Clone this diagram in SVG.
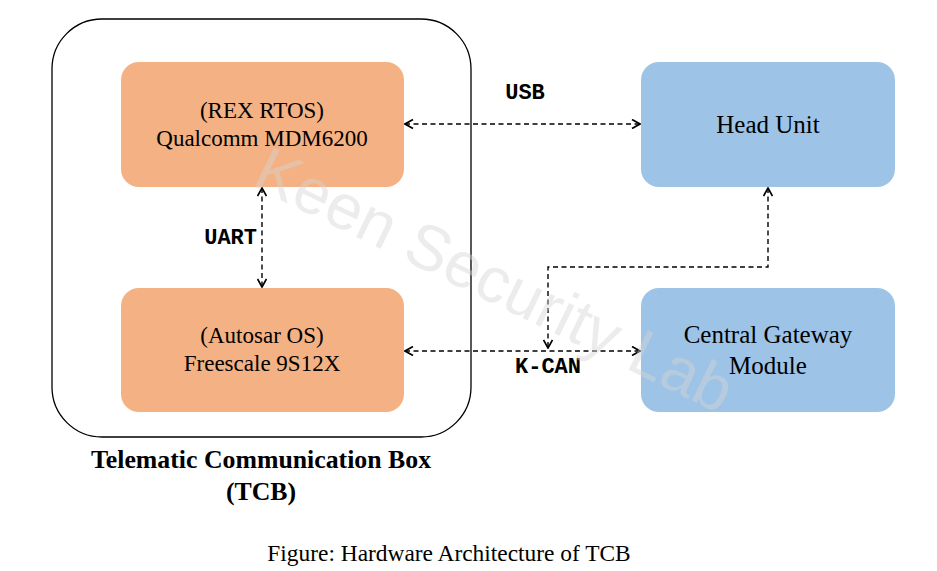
<svg xmlns="http://www.w3.org/2000/svg" width="937" height="571" viewBox="0 0 937 571">
  <style>
    .serif { font-family: "Liberation Serif", "Times New Roman", serif; fill: #000; }
    .mono { font-family: "Liberation Mono", "Courier New", monospace; font-weight: bold; font-size: 22px; fill: #000; }
    .orange { fill: #F4B183; }
    .blue { fill: #9DC3E6; }
    .conn { fill: none; stroke: #000; stroke-width: 1.4; stroke-dasharray: 5 3.5; }
  </style>
  <defs>
    <marker id="arr" viewBox="0 0 10 10" refX="9" refY="5" markerWidth="10" markerHeight="10" markerUnits="userSpaceOnUse" orient="auto-start-reverse">
      <path d="M1,0.5 L9,5 L1,9.5" fill="none" stroke="#000" stroke-width="1.7"/>
    </marker>
  </defs>
  <rect width="937" height="571" fill="#fff"/>

  <g id="tcb">
    <rect x="52" y="19" width="419" height="418" rx="50" ry="50" fill="none" stroke="#000" stroke-width="1.3"/>
    <text class="serif" x="261" y="468" font-size="25.8" font-weight="bold" text-anchor="middle">Telematic Communication Box</text>
    <text class="serif" x="261" y="500" font-size="25.8" font-weight="bold" text-anchor="middle">(TCB)</text>
  </g>

  <g id="qualcomm">
    <rect class="orange" x="121" y="62" width="283" height="125" rx="18" ry="18"/>
    <text class="serif" x="262" y="118" font-size="23" text-anchor="middle">(REX RTOS)</text>
    <text class="serif" x="262" y="146" font-size="23" text-anchor="middle">Qualcomm MDM6200</text>
  </g>

  <g id="freescale">
    <rect class="orange" x="121" y="288" width="283" height="124" rx="18" ry="18"/>
    <text class="serif" x="262" y="343" font-size="23" text-anchor="middle">(Autosar OS)</text>
    <text class="serif" x="262" y="371" font-size="23" text-anchor="middle">Freescale 9S12X</text>
  </g>

  <g id="headunit">
    <rect class="blue" x="641" y="62" width="254" height="125" rx="18" ry="18"/>
    <text class="serif" x="768" y="133" font-size="25" text-anchor="middle">Head Unit</text>
  </g>

  <g id="gateway">
    <rect class="blue" x="641" y="288" width="254" height="124" rx="18" ry="18"/>
    <text class="serif" x="768" y="343" font-size="25" text-anchor="middle">Central Gateway</text>
    <text class="serif" x="768" y="374" font-size="25" text-anchor="middle">Module</text>
  </g>

  <g id="connectors">
    <line class="conn" x1="405" y1="124" x2="640" y2="124" marker-start="url(#arr)" marker-end="url(#arr)"/>
    <text class="mono" x="525" y="99" text-anchor="middle">USB</text>
    <line class="conn" x1="262" y1="188" x2="262" y2="287" marker-start="url(#arr)" marker-end="url(#arr)"/>
    <text class="mono" x="257" y="244" text-anchor="end">UART</text>
    <line class="conn" x1="405" y1="351" x2="640" y2="351" marker-start="url(#arr)" marker-end="url(#arr)"/>
    <text class="mono" x="548" y="373" text-anchor="middle">K-CAN</text>
    <polyline class="conn" points="768,188 768,267 548,267 548,348" marker-start="url(#arr)" marker-end="url(#arr)"/>
  </g>

  <text x="250" y="185" transform="rotate(26 250 185)" font-family="Liberation Sans, Arial, sans-serif" font-size="64" fill="#d4d4d4" fill-opacity="0.45">Keen Security Lab</text>

  <text class="serif" x="449" y="561" font-size="23.4" text-anchor="middle">Figure: Hardware Architecture of TCB</text>
</svg>
